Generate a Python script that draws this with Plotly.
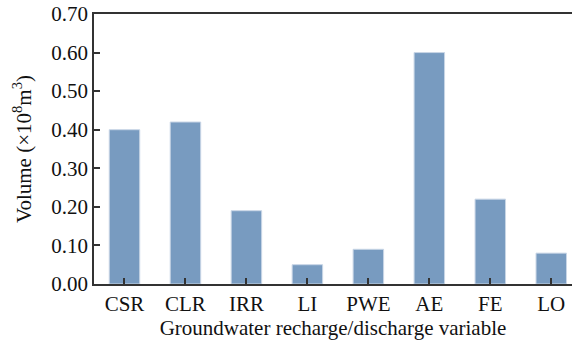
import plotly.graph_objects as go

categories = ["CSR", "CLR", "IRR", "LI", "PWE", "AE", "FE", "LO"]
volumes = [0.40, 0.42, 0.19, 0.05, 0.09, 0.60, 0.22, 0.08]

font_family = "Liberation Serif, Times New Roman, serif"

fig = go.Figure(
    go.Bar(
        x=categories,
        y=volumes,
        width=0.5,
        marker=dict(color="#789bc0", line=dict(color="#c9d6e6", width=1)),
    )
)

fig.update_layout(
    width=572,
    height=341,
    margin=dict(l=94, r=0, t=14, b=57),
    plot_bgcolor="white",
    paper_bgcolor="white",
    showlegend=False,
    font=dict(family=font_family, size=21, color="#111"),
)

fig.update_xaxes(
    type="category",
    range=[-0.5, 7.34],
    automargin=False,
    showline=True,
    linecolor="#333",
    linewidth=1.5,
    mirror=True,
    ticks="inside",
    ticklen=6,
    tickwidth=1.5,
    tickcolor="#333",
    showgrid=False,
    tickfont=dict(family=font_family, size=21),
    title=dict(text="Groundwater recharge/discharge variable", standoff=0,
               font=dict(family=font_family, size=21)),
)

fig.update_yaxes(
    range=[0, 0.70],
    dtick=0.1,
    tickformat=".2f",
    automargin=False,
    showline=True,
    linecolor="#333",
    linewidth=1.5,
    ticks="inside",
    ticklen=6,
    tickwidth=1.5,
    tickcolor="#333",
    showgrid=False,
    zeroline=False,
    tickfont=dict(family=font_family, size=21),
    title=dict(text="Volume (×10<sup>8</sup>m<sup>3</sup>)", standoff=14,
               font=dict(family=font_family, size=21)),
)

fig.write_html("out.html")
